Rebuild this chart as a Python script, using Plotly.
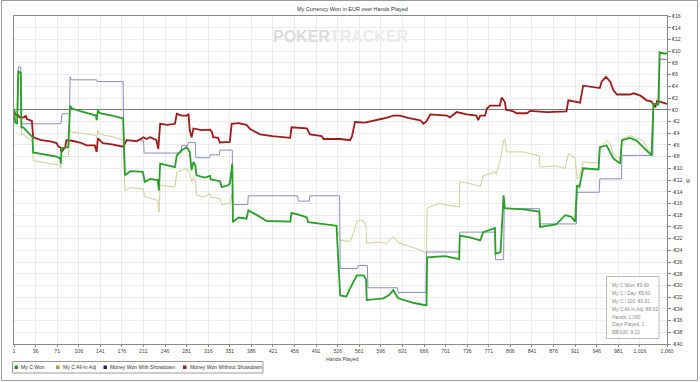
import plotly.graph_objects as go

# ---------------- data ----------------
won_hands = [1, 3, 6, 8, 12, 13, 16, 25, 31, 32, 50, 70, 76, 77, 78, 89, 92, 95, 110, 125, 134, 135, 137, 140, 160, 178,
             181, 190, 210, 213, 222, 234, 236, 238, 262, 265, 272, 281, 286, 289, 292, 295, 297, 310, 319, 320, 335, 338,
             348, 351, 354, 355, 356, 365, 378, 381, 395, 411, 449, 451, 465, 476, 478, 500, 524, 530, 540, 546, 557, 568,
             572, 573, 600, 610, 616, 624, 650, 670, 671, 700, 715, 723, 724, 740, 757, 762, 781, 782, 790, 795, 797, 827,
             853, 854, 880, 895, 905, 911, 914, 918, 924, 949, 951, 962, 973, 984, 987, 1000, 1011, 1022, 1035, 1038, 1046,
             1048, 1055, 1060]
won_vals = [0, -2.2, -2.4, 6.5, 6.3, -3.0, -3.0, -4.0, -4.7, -7.3, -7.6, -8.0, -8.3, -9.2, -6.6, -6.4, 0.7, 0.2, -0.3, -0.7,
            -1.0, -1.8, -0.1, -0.6, -1.0, -1.5, -11.2, -10.5, -10.6, -12.3, -11.8, -12.0, -13.8, -9.2, -9.8, -7.8, -7.0,
            -6.4, -7.2, -10.3, -8.9, -9.5, -11.2, -11.6, -11.3, -11.9, -12.2, -13.2, -12.9, -12.6, -9.2, -9.2, -19.2,
            -18.4, -18.6, -17.2, -18.0, -19.0, -19.1, -17.6, -18.0, -18.4, -19.2, -19.5, -19.8, -31.7, -31.9, -30.5,
            -28.3, -28.3, -29.0, -32.5, -32.2, -31.6, -30.8, -32.2, -33.0, -33.4, -25.2, -25.0, -25.4, -25.5, -21.5,
            -21.8, -22.3, -20.9, -20.2, -24.6, -24.3, -14.6, -16.8, -17.0, -17.4, -20.0, -19.6, -18.0, -18.3, -19.1,
            -12.9, -13.2, -10.0, -10.2, -6.4, -6.1, -8.3, -9.2, -5.2, -4.8, -5.3, -6.4, -7.8, 1.0, 0.9, 9.8, 9.6, 9.6]

allin_hands = [1, 3, 6, 8, 12, 13, 16, 25, 31, 32, 50, 70, 76, 77, 78, 89, 92, 95, 110, 134, 135, 137, 140, 160, 178, 181,
               190, 210, 213, 222, 234, 236, 238, 262, 265, 272, 281, 286, 289, 292, 295, 297, 310, 319, 320, 335, 338,
               351, 354, 355, 356, 365, 378, 381, 395, 411, 449, 451, 465, 476, 478, 500, 524, 530, 546, 552, 557, 563,
               568, 572, 573, 590, 605, 616, 624, 650, 670, 671, 690, 700, 723, 724, 740, 757, 762, 781, 783, 790, 795,
               797, 800, 827, 853, 854, 880, 895, 900, 911, 914, 918, 924, 949, 951, 962, 968, 973, 984, 987, 1000, 1011,
               1022, 1030, 1035, 1038, 1046, 1049, 1060]
allin_vals = [0, -2.2, -2.4, 6.5, 6.3, -4.4, -4.2, -5.0, -5.5, -8.7, -9.0, -9.3, -9.5, -10.0, -8.0, -8.0, -3.5, -3.8, -4.0,
              -4.4, -4.8, -3.5, -4.2, -4.6, -5.2, -13.8, -13.3, -13.5, -14.8, -15.1, -15.5, -17.5, -12.9, -13.2, -10.7,
              -10.4, -10.0, -10.8, -12.3, -11.6, -12.0, -14.6, -14.9, -14.3, -14.9, -15.2, -16.2, -16.0, -14.3, -14.3,
              -19.2, -18.4, -18.6, -17.2, -18.0, -19.0, -19.1, -17.6, -18.0, -18.4, -19.2, -19.5, -19.8, -22.3, -22.5,
              -21.0, -19.0, -18.8, -19.0, -20.0, -22.8, -22.6, -22.8, -21.7, -22.7, -23.6, -24.4, -16.8, -16.0, -16.2,
              -16.6, -12.3, -12.6, -13.1, -11.3, -10.6, -11.0, -8.5, -5.2, -5.0, -7.2, -7.2, -7.9, -9.8, -9.6, -10.0,
              -7.5, -8.2, -11.8, -11.5, -8.9, -9.1, -6.8, -5.3, -5.8, -7.6, -8.4, -5.0, -4.4, -4.9, -5.3, -7.0, -7.4,
              0.5, 0.8, 8.7, 8.62]

sd_hands = [1, 7, 8, 12, 13, 77, 79, 91, 92, 94, 135, 136, 178, 179, 211, 212, 272, 273, 283, 284, 295, 296, 318, 319, 334,
            335, 355, 356, 380, 381, 461, 462, 480, 481, 529, 530, 558, 559, 574, 575, 623, 624, 669, 670, 723, 724, 781,
            782, 795, 796, 853, 854, 913, 914, 950, 951, 986, 987, 1037, 1038, 1047, 1048, 1060]
sd_vals = [0, 0, 7.3, 7.3, -2.4, -2.4, -0.7, -0.7, 5.6, 5.1, 5.1, 4.8, 4.8, -5.2, -5.2, -7.4, -7.4, -6.1, -6.1, -5.6, -5.6,
           -8.2, -8.2, -7.7, -7.7, -6.9, -6.9, -16.2, -16.2, -14.7, -14.7, -15.6, -15.6, -14.7, -14.7, -27.1, -27.1,
           -26.6, -26.6, -30.4, -30.4, -31.2, -31.2, -24.3, -24.3, -20.9, -20.9, -25.6, -25.6, -16.9, -16.9, -19.5,
           -19.5, -14.1, -14.1, -11.8, -11.8, -7.8, -7.8, 1.0, 1.0, 8.6, 8.6]

nsd_hands = [1, 3, 8, 10, 18, 20, 22, 30, 32, 45, 60, 70, 73, 77, 78, 82, 84, 86, 95, 108, 119, 132, 135, 137, 145, 160, 175,
             178, 184, 200, 211, 216, 222, 227, 232, 235, 238, 250, 262, 265, 273, 281, 284, 286, 289, 292, 305, 319, 322,
             324, 332, 335, 351, 354, 365, 378, 384, 400, 420, 449, 451, 476, 481, 500, 503, 530, 546, 549, 554, 570, 589,
             600, 611, 616, 627, 640, 660, 665, 670, 676, 703, 708, 719, 735, 751, 754, 757, 765, 768, 773, 789, 792, 797,
             799, 811, 816, 833, 838, 865, 897, 900, 919, 924, 951, 954, 961, 968, 973, 979, 1000, 1006, 1017, 1027, 1035,
             1041, 1044, 1060]
nsd_vals = [0, -0.8, -1.0, -1.3, -1.3, -1.0, -1.6, -1.9, -4.7, -5.2, -5.4, -5.7, -6.3, -6.5, -7.2, -6.5, -6.4, -5.2, -5.3,
            -5.6, -6.1, -6.1, -7.2, -4.9, -5.7, -5.9, -6.3, -6.3, -5.2, -5.4, -4.7, -5.0, -4.7, -5.0, -5.2, -6.7, -2.4,
            -2.6, -2.4, -0.7, -1.0, -1.0, -0.7, -3.5, -4.7, -3.2, -3.5, -3.4, -3.8, -4.7, -4.8, -5.6, -5.5, -2.4, -2.3,
            -2.6, -3.3, -4.2, -4.5, -4.8, -3.0, -3.2, -4.2, -4.5, -5.0, -5.0, -5.2, -4.6, -2.1, -2.2, -1.8, -1.5, -1.2,
            -1.0, -1.0, -1.4, -1.8, -2.4, -2.0, -0.8, -1.0, -1.3, -0.4, -0.8, -1.0, -1.8, -1.0, -1.0, 0.2, 0.7, 0.7,
            2.1, 1.3, 0.0, -0.3, -0.6, -0.6, -0.2, -0.4, -0.3, 1.6, 1.2, 4.1, 3.7, 4.8, 5.6, 4.8, 3.3, 2.6, 2.6, 2.8,
            2.4, 1.6, 1.4, 0.4, 1.5, 1.0]

x_tickvals = [1, 36, 71, 106, 141, 176, 211, 246, 281, 316, 351, 386, 421, 456, 491, 526, 561, 596, 631, 666, 701, 736,
              771, 806, 841, 876, 911, 946, 981, 1016, 1060]
x_ticktext = ["1", "36", "71", "106", "141", "176", "211", "246", "281", "316", "351", "386", "421", "456", "491", "526",
              "561", "596", "631", "666", "701", "736", "771", "806", "841", "876", "911", "946", "981", "1,016", "1,060"]
y_tickvals = [16, 14, 12, 10, 8, 6, 4, 2, 0, -2, -4, -6, -8, -10, -12, -14, -16, -18, -20, -22, -24, -26, -28, -30, -32,
              -34, -36, -38, -40]
y_ticktext = ["€16", "€14", "€12", "€10", "€8", "€6", "€4", "€2", "€0", "-€2", "-€4", "-€6", "-€8", "-€10", "-€12",
              "-€14", "-€16", "-€18", "-€20", "-€22", "-€24", "-€26", "-€28", "-€30", "-€32", "-€34", "-€36", "-€38",
              "-€40"]

legend_names = ["My C Won", "My C All-In Adj", "Money Won With Showdown", "Money Won Without Showdown"]
legend_colors = ["#2e8b2e", "#a3a34a", "#22227a", "#9a1c1c"]
stats_lines = ["My C Won: €9.60", "My C / Day: €9.60", "My C / 100: €0.91", "My C All-In Adj: €8.62",
               "Hands: 1,060", "Days Played: 1", "BB/100: 9.13"]

# ---------------- layout helpers (pixel -> paper) ----------------
L, T, W, H = 14, 16, 653, 328
FIG_W, FIG_H = 700, 382
def px(x):
    return (x - L) / W
def py(y):
    return 1 - (y - T) / H

FONT = "Liberation Sans, Arial, sans-serif"

fig = go.Figure()
fig.add_trace(go.Scatter(x=allin_hands, y=allin_vals, mode="lines", line=dict(color="#cfcf95", width=1),
                         name=legend_names[1], showlegend=False, hoverinfo="skip"))
fig.add_trace(go.Scatter(x=sd_hands, y=sd_vals, mode="lines", line=dict(color="#8c8cc0", width=1),
                         name=legend_names[2], showlegend=False, hoverinfo="skip"))
fig.add_trace(go.Scatter(x=nsd_hands, y=nsd_vals, mode="lines", line=dict(color="#a01a1a", width=1.8),
                         name=legend_names[3], showlegend=False, hoverinfo="skip"))
fig.add_trace(go.Scatter(x=won_hands, y=won_vals, mode="lines", line=dict(color="#2aa02a", width=1.8),
                         name=legend_names[0], showlegend=False, hoverinfo="skip"))

shapes = []
annotations = []

# outer frame
shapes.append(dict(type="rect", xref="paper", yref="paper", x0=px(1.5), x1=px(697.5), y0=py(380.5), y1=py(0.5),
                   line=dict(color="#9a9a9a", width=1), layer="below"))

# title
annotations.append(dict(text="My Currency Won in EUR over Hands Played", xref="paper", yref="paper",
                        x=px(352), y=py(9), showarrow=False, xanchor="center", yanchor="middle",
                        font=dict(family=FONT, size=5.5, color="#333333")))
# watermark
annotations.append(dict(text="<b><span style='color:#dcdcdc'>POKER</span><span style='color:#ebebeb'>TRACKER</span></b>",
                        xref="paper", yref="paper", x=px(341), y=py(37), showarrow=False,
                        xanchor="center", yanchor="middle", font=dict(family=FONT, size=16, color="#e4e4e4")))
# x-axis title
annotations.append(dict(text="Hands Played", xref="paper", yref="paper", x=px(342), y=py(358.5), showarrow=False,
                        xanchor="center", yanchor="middle", font=dict(family=FONT, size=5.2, color="#444444")))
# small y-axis title mark
annotations.append(dict(text="W", xref="paper", yref="paper", x=px(688), y=py(181), showarrow=False,
                        xanchor="center", yanchor="middle", font=dict(family=FONT, size=4.5, color="#444444")))

# legend box
shapes.append(dict(type="rect", xref="paper", yref="paper", x0=px(12.5), x1=px(263), y0=py(373), y1=py(361.5),
                   line=dict(color="#9a9a9a", width=1), fillcolor="white"))
sq_x = [14.5, 56, 103.5, 183]
tx_x = [19, 60.5, 108, 187.5]
for i in range(4):
    shapes.append(dict(type="rect", xref="paper", yref="paper", x0=px(sq_x[i]), x1=px(sq_x[i] + 3.5),
                       y0=py(369), y1=py(365.5), line=dict(width=0), fillcolor=legend_colors[i]))
    annotations.append(dict(text=legend_names[i], xref="paper", yref="paper", x=px(tx_x[i]), y=py(367.3),
                            showarrow=False, xanchor="left", yanchor="middle",
                            font=dict(family=FONT, size=5.1, color="#333333")))

# stats box
shapes.append(dict(type="rect", xref="paper", yref="paper", x0=px(606.5), x1=px(659), y0=py(338.5), y1=py(276.5),
                   line=dict(color="#bbbbbb", width=1), fillcolor="rgba(255,255,255,0.85)"))
for i, s in enumerate(stats_lines):
    annotations.append(dict(text=s, xref="paper", yref="paper", x=px(609.5), y=py(285.8 + i * 7.8),
                            showarrow=False, xanchor="left", yanchor="middle",
                            font=dict(family=FONT, size=4.8, color="#8a8a8a")))

fig.update_layout(
    width=FIG_W, height=FIG_H,
    margin=dict(l=L, r=FIG_W - L - W, t=T, b=FIG_H - T - H, pad=0),
    paper_bgcolor="white", plot_bgcolor="white",
    showlegend=False,
    shapes=shapes, annotations=annotations,
    xaxis=dict(range=[1, 1060], tickvals=x_tickvals, ticktext=x_ticktext, showgrid=True, gridcolor="#ececec",
               gridwidth=1, zeroline=False, showline=True, linecolor="#8a8a8a", linewidth=1, mirror=True,
               ticks="outside", ticklen=2, tickcolor="#8a8a8a", tickfont=dict(family=FONT, size=5.2, color="#444444"),
               fixedrange=True),
    yaxis=dict(range=[-40, 16], side="right", tickvals=y_tickvals, ticktext=y_ticktext, showgrid=True,
               gridcolor="#ececec", gridwidth=1, zeroline=True, zerolinecolor="#7a7a7a", zerolinewidth=1,
               showline=True, linecolor="#8a8a8a", linewidth=1, mirror=True, ticks="outside", ticklen=3,
               tickcolor="#8a8a8a", tickfont=dict(family=FONT, size=5.2, color="#444444"), fixedrange=True),
)

fig.write_html("out.html", config={"displayModeBar": False, "staticPlot": True},
               post_script="document.body.style.margin='0px';document.body.style.padding='0px';"
                           "document.body.style.overflow='hidden';")
